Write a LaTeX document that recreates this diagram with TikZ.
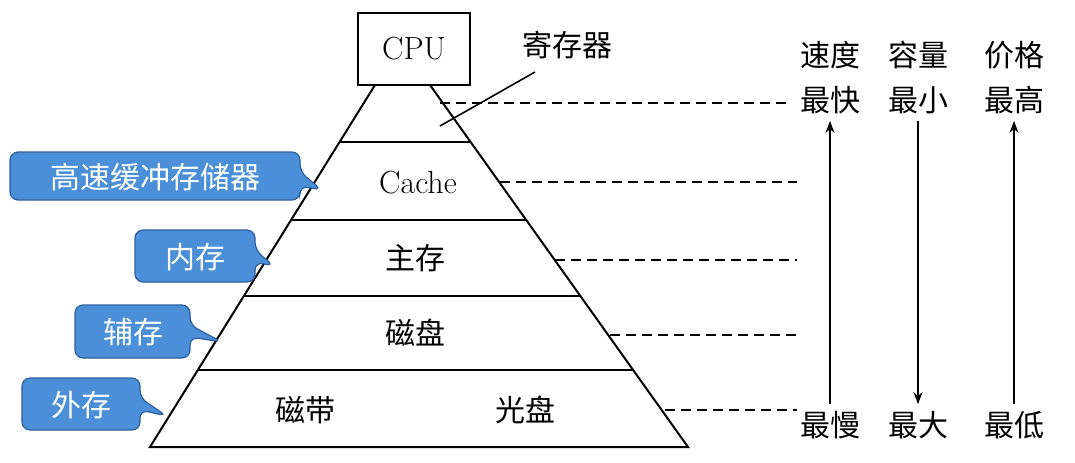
\documentclass[tikz,border=0pt]{standalone}
\usepackage{fontspec}
\newfontfamily\cjk{Noto Sans CJK SC}
\usetikzlibrary{arrows.meta}
\definecolor{cb}{HTML}{4A8FD8}
\definecolor{cbd}{HTML}{2E5F9E}
\begin{document}
\begin{tikzpicture}[x=0.5pt,y=-0.5pt,
  txt/.style={font=\cjk\fontsize{15}{17}\selectfont},
  lat/.style={font=\fontsize{16}{18}\selectfont},
  dln/.style={line width=0.8pt,dash pattern=on 5pt off 3pt},
  edge/.style={line width=1pt},
  call/.style={fill=cb,draw=cbd,line width=0.6pt,rounded corners=4pt},
  ctxt/.style={font=\cjk\fontsize{15}{17}\selectfont,text=white},
  arr/.style={line width=0.8pt,-{Stealth[length=6pt]}}]
\useasboundingbox (0,0) rectangle (1075,462);
% CPU
\node[draw,edge,minimum width=56pt,minimum height=36pt,lat] (cpu) at (414,49) {CPU};
% pyramid
\draw[edge] (375,85) -- (150,447) -- (688,447) -- (430,85);
\draw[edge] (339.6,142) -- (470.6,142);
\draw[edge] (291.1,220) -- (526.2,220);
\draw[edge] (243.9,296) -- (580.4,296);
\draw[edge] (197.9,370) -- (633.1,370);
\node[lat] (cache) at (418,183) {Cache};
\node[txt] (zc) at (415,258) {主存};
\node[txt] (cp) at (415,333) {磁盘};
\node[txt] (cd) at (305,410) {磁带};
\node[txt] (gp) at (525,410) {光盘};
\node[txt] (reg) at (567,45) {寄存器};
\coordinate (r1) at (535,72); \coordinate (r2) at (440,126);
\draw[line width=0.8pt] (r1) -- (r2);
% dashed
\coordinate (d1a) at (440,103); \coordinate (d1b) at (790,103);
\coordinate (d2a) at (500,182); \coordinate (d2b) at (797,182);
\coordinate (d3a) at (555,260); \coordinate (d3b) at (797,260);
\coordinate (d4a) at (610,335); \coordinate (d4b) at (797,335);
\coordinate (d5a) at (665,410); \coordinate (d5b) at (797,410);
\foreach \i in {1,...,5}{\draw[dln] (d\i a) -- (d\i b);}
% right column
\node[txt] (sd) at (830,55) {速度};
\node[txt] (zk) at (830,100) {最快};
\node[txt] (rl) at (918,55) {容量};
\node[txt] (zx) at (918,100) {最小};
\node[txt] (jg) at (1014,55) {价格};
\node[txt] (zg) at (1014,100) {最高};
\node[txt] (zm) at (830,425) {最慢};
\node[txt] (zd) at (918,425) {最大};
\node[txt] (zdi) at (1014,425) {最低};
\draw[arr] (zm.north) -- (zk.south);
\draw[arr] (zx.south) -- (zd.north);
\draw[arr] (zdi.north) -- (zg.south);
% callouts
\draw[call] (10,152) -- (300,152) -- (300,172) -- (322,190) -- (300,186) -- (300,200) -- (10,200) -- cycle;
\node[ctxt] (c1) at (155,177) {高速缓冲存储器};
\draw[call] (135,230) -- (255,230) -- (255,250) -- (274,266) -- (255,262) -- (255,282) -- (135,282) -- cycle;
\node[ctxt] (c2) at (195,257) {内存};
\draw[call] (75,305) -- (190,305) -- (190,325) -- (222,342) -- (190,337) -- (190,358) -- (75,358) -- cycle;
\node[ctxt] (c3) at (133,332) {辅存};
\draw[call] (22,378) -- (140,378) -- (140,398) -- (167,416) -- (140,410) -- (140,430) -- (22,430) -- cycle;
\node[ctxt] (c4) at (81,405) {外存};
\end{tikzpicture}
\end{document}
